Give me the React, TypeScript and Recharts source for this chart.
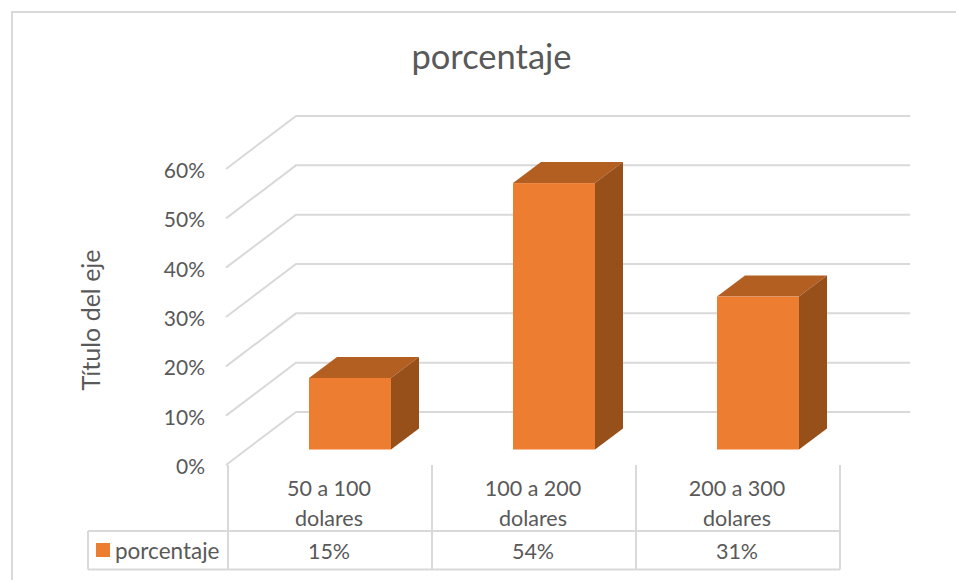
import { BarChart, Bar, XAxis, YAxis, CartesianGrid } from "recharts";

const categories = ["50 a 100 dolares", "100 a 200 dolares", "200 a 300 dolares"];
const values = [14.5, 54, 31];
const tableLabels = ["15%", "54%", "31%"];
const yTicks = [0, 10, 20, 30, 40, 50, 60];

const data = categories.map((name, i) => ({ name, porcentaje: values[i] }));

const FONT = "Lato, sans-serif";
const TEXT = "#595959";
const LINE = "#d9d9d9";
const DEPTH_X = 70; // wall depth
const DEPTH_Y = 53;
const TABLE_TOP = 531;
const TABLE_BOTTOM = 569.5;

// grid line: front edge runs back to the wall, then across it
function WallLine(props: any) {
  const { x1, y1, x2 } = props;
  return (
    <polyline
      points={`${x1 - 2},${y1} ${x1 + DEPTH_X - 2},${y1 - DEPTH_Y} ${x2 + DEPTH_X},${y1 - DEPTH_Y}`}
      fill="none"
      stroke={LINE}
      strokeWidth={2}
    />
  );
}

// bar box sits partway into the floor
function Box3D(props: any) {
  const { x, y, width, height } = props;
  const l = x + 20;
  const r = l + width;
  const t = y - 15.5;
  const b = t + height;
  const dx = 28;
  const dy = 21;
  return (
    <g>
      <polygon points={`${l},${t} ${l + dx},${t - dy} ${r + dx},${t - dy} ${r},${t}`} fill="#b45f22" />
      <polygon points={`${r},${t} ${r + dx},${t - dy} ${r + dx},${b - dy} ${r},${b}`} fill="#98501b" />
      <rect x={l} y={t} width={width} height={height} fill="#ed7d31" />
    </g>
  );
}

// category label plus its data table cell
function TableTick(props: any) {
  const { x, index, payload } = props;
  const parts = String(payload.value).split(" dolares");
  const left = x - 102;
  const right = x + 102;
  return (
    <g fontFamily={FONT} fill={TEXT} fontSize={21.5}>
      <line x1={left} y1={465} x2={left} y2={TABLE_BOTTOM} stroke={LINE} strokeWidth={2} />
      <line x1={right} y1={465} x2={right} y2={TABLE_BOTTOM} stroke={LINE} strokeWidth={2} />
      <line x1={left} y1={TABLE_TOP} x2={right} y2={TABLE_TOP} stroke={LINE} strokeWidth={2} />
      <line x1={left} y1={TABLE_BOTTOM} x2={right} y2={TABLE_BOTTOM} stroke={LINE} strokeWidth={2} />
      <text x={x - 1} y={496} textAnchor="middle">{parts[0]}</text>
      <text x={x - 1} y={526} textAnchor="middle">dolares</text>
      <text x={x - 1} y={559} textAnchor="middle">{tableLabels[index]}</text>
      {index === 0 && (
        <g>
          <line x1={88} y1={TABLE_TOP} x2={left} y2={TABLE_TOP} stroke={LINE} strokeWidth={2} />
          <line x1={88} y1={TABLE_BOTTOM} x2={left} y2={TABLE_BOTTOM} stroke={LINE} strokeWidth={2} />
          <line x1={88} y1={TABLE_TOP} x2={88} y2={TABLE_BOTTOM} stroke={LINE} strokeWidth={2} />
          <rect x={96} y={543} width={14} height={14} fill="#ed7d31" />
          <text x={115} y={559} fontSize={22.5}>porcentaje</text>
        </g>
      )}
    </g>
  );
}

function AxisTitle() {
  return (
    <text
      transform="translate(100,320) rotate(-90)"
      textAnchor="middle"
      fontFamily={FONT}
      fontSize={25}
      fill={TEXT}
    >
      Título del eje
    </text>
  );
}

export default function App() {
  return (
    <div style={{ position: "absolute", left: 0, top: 0, width: 956, height: 580, overflow: "hidden", background: "#fff" }}>
      {/* chart frame, cut off on the right in the source */}
      <div style={{ position: "absolute", left: 11, top: 11, width: 945, height: 569, borderLeft: `2px solid ${LINE}`, borderTop: `2px solid ${LINE}`, boxSizing: "border-box" }} />
      <div style={{ position: "absolute", left: 0, width: 983, top: 35, textAlign: "center", fontFamily: FONT, fontSize: 34.5, color: TEXT }}>
        porcentaje
      </div>
      <BarChart
        width={956}
        height={580}
        data={data}
        margin={{ top: 169, right: 116, bottom: 5, left: 168 }}
        style={{ position: "absolute", left: 0, top: 0 }}
      >
        <CartesianGrid horizontal={WallLine as any} vertical={false} />
        <XAxis
          dataKey="name"
          interval={0}
          height={110}
          axisLine={false}
          tickLine={false}
          tick={TableTick as any}
        />
        <YAxis
          width={60}
          domain={[0, 60]}
          ticks={yTicks}
          tickFormatter={(v: number) => `${v}%`}
          axisLine={false}
          tickLine={false}
          tickSize={0}
          tickMargin={23}
          tick={{ fontFamily: FONT, fontSize: 21, fill: TEXT, dy: 1.5 } as any}
          label={{ content: AxisTitle as any }}
        />
        <Bar dataKey="porcentaje" barSize={82} shape={Box3D as any} isAnimationActive={false} />
      </BarChart>
    </div>
  );
}
